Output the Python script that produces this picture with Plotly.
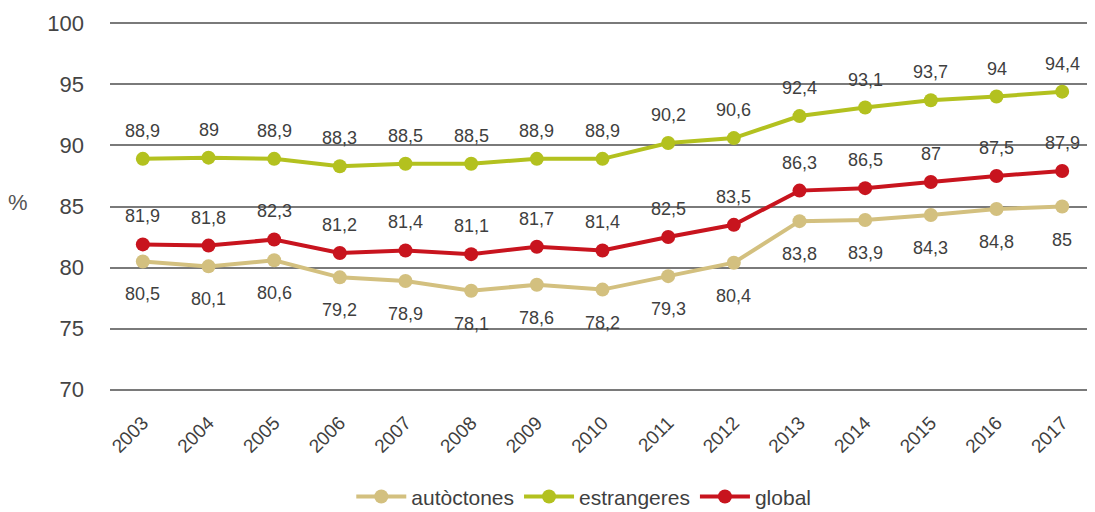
import plotly.graph_objects as go

years = ["2003", "2004", "2005", "2006", "2007", "2008", "2009", "2010",
         "2011", "2012", "2013", "2014", "2015", "2016", "2017"]
autoctones = [80.5, 80.1, 80.6, 79.2, 78.9, 78.1, 78.6, 78.2, 79.3, 80.4, 83.8, 83.9, 84.3, 84.8, 85]
estrangeres = [88.9, 89, 88.9, 88.3, 88.5, 88.5, 88.9, 88.9, 90.2, 90.6, 92.4, 93.1, 93.7, 94, 94.4]
global_ = [81.9, 81.8, 82.3, 81.2, 81.4, 81.1, 81.7, 81.4, 82.5, 83.5, 86.3, 86.5, 87, 87.5, 87.9]
y_ticks = [70, 75, 80, 85, 90, 95, 100]

series = [
    ("autòctones", autoctones, "#d3c07f", -33),
    ("estrangeres", estrangeres, "#b3c11f", 28),
    ("global", global_, "#c8141e", 28),
]

TEXT_COL = "#3f3f3f"
FONT = "Liberation Sans, Arial, sans-serif"

xi = list(range(len(years)))

fig = go.Figure()
annotations = []
for name, vals, col, shift in series:
    fig.add_trace(go.Scatter(
        x=xi, y=vals, name=name, mode="lines+markers",
        line=dict(color=col, width=4),
        marker=dict(color=col, size=14),
    ))
    for x, v in zip(xi, vals):
        annotations.append(dict(
            x=x, y=v, text=f"{v:g}".replace(".", ","), showarrow=False,
            yshift=shift, font=dict(size=18, color=TEXT_COL, family=FONT),
        ))

annotations.append(dict(
    xref="paper", yref="paper", x=-0.081, y=0.51, xanchor="right",
    text="%", showarrow=False, font=dict(size=22, color="#555555", family=FONT),
))

# the page body adds an 8px margin, so the figure is sized to fit the window from (8, 8)
fig.update_layout(
    width=1087, height=504,
    margin=dict(l=102, r=0, t=14, b=121),
    paper_bgcolor="white", plot_bgcolor="white",
    font=dict(family=FONT, color=TEXT_COL),
    showlegend=True,
    legend=dict(orientation="h", x=0.481, xanchor="center",
                yref="container", y=0.03, yanchor="middle",
                itemwidth=50, tracegroupgap=0,
                font=dict(size=21, color=TEXT_COL)),
    annotations=annotations,
    xaxis=dict(range=[-0.5, len(years) - 0.5], tickvals=xi, ticktext=years,
               tickangle=-45, tickfont=dict(size=19, color=TEXT_COL),
               showgrid=False, zeroline=False, showline=False, ticks="",
               ticklabelstandoff=16, automargin=False),
    yaxis=dict(range=[69.9, 100.1], tickvals=y_ticks, showgrid=True, gridcolor="#7a7a7a",
               gridwidth=2, zeroline=False, showline=False, ticks="",
               tickfont=dict(size=22, color="#444444"), ticklabelstandoff=25,
               automargin=False),
)

fig.write_html("out.html")
